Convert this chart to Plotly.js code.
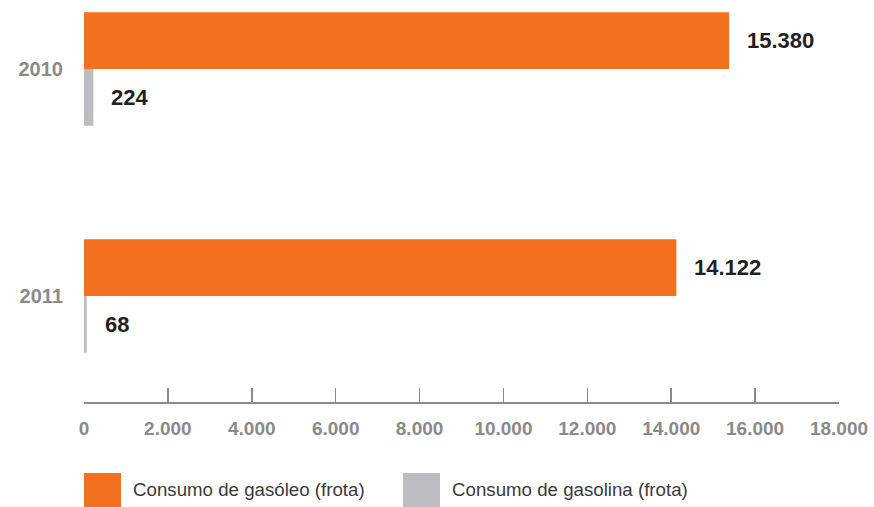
<!DOCTYPE html>
<html>
<head>
<meta charset="utf-8">
<script src="https://cdn.plot.ly/plotly-3.0.1.min.js"></script>
<style>
html,body{margin:0;padding:0;background:#fff;}
#chart{width:874px;height:507px;}
</style>
</head>
<body>
<div id="chart"></div>
<script>
const years = ["2010", "2011"];
const seriesNames = ["Consumo de gasóleo (frota)", "Consumo de gasolina (frota)"];
const gasoleo = [15380, 14122];
const gasolina = [224, 68];
const xTicks = [0, 2000, 4000, 6000, 8000, 10000, 12000, 14000, 16000, 18000];

const colors = ["#f37021", "#bcbdc0"];
const fmt = v => String(v).replace(/\B(?=(\d{3})+(?!\d))/g, ".");

const series = [gasoleo, gasolina];
const traces = series.map((vals, i) => ({
  type: "bar",
  orientation: "h",
  name: seriesNames[i],
  y: years,
  x: vals,
  marker: {color: colors[i], line: {width: 0}},
  hoverinfo: "skip",
  showlegend: false
}));

const bargap = 0.5;
const barW = (1 - bargap) / series.length;
const annotations = [];
series.forEach((vals, i) => {
  vals.forEach((v, j) => {
    annotations.push({
      x: v, y: j - (1 - bargap) / 2 + barW * (i + 0.5), xref: "x", yref: "y",
      text: fmt(v), showarrow: false,
      xanchor: "left", yanchor: "middle",
      xshift: 16,
      font: {family: "Liberation Sans, Arial, sans-serif", size: 22, color: "#231f20", weight: "bold"}
    });
  });
});

// custom legend (large swatches)
const shapes = [];
const legX = [84, 403];
seriesNames.forEach((n, i) => {
  shapes.push({
    type: "rect", xref: "paper", yref: "paper",
    x0: (legX[i] - 84) / 755, x1: (legX[i] + 37 - 84) / 755,
    y0: -(473 - 402) / 402, y1: -(507 - 402) / 402,
    fillcolor: colors[i], line: {width: 0}
  });
  annotations.push({
    xref: "paper", yref: "paper",
    x: (legX[i] + 47 - 84) / 755, y: -(490 - 402) / 402,
    xanchor: "left", yanchor: "middle", showarrow: false,
    text: n,
    font: {family: "Liberation Sans, Arial, sans-serif", size: 18.7, color: "#3a3a3a"}
  });
});

const layout = {
  width: 874, height: 507,
  margin: {l: 84, r: 35, t: 0, b: 105},
  paper_bgcolor: "#ffffff", plot_bgcolor: "#ffffff",
  barmode: "group", bargap: bargap, bargroupgap: 0,
  separators: ",.",
  showlegend: false,
  xaxis: {
    range: [0, 18000],
    tickvals: xTicks,
    tickformat: ",",
    ticks: "inside", ticklen: 14, tickwidth: 1.5, tickcolor: "#8a8a8a",
    showline: true, linecolor: "#8a8a8a", linewidth: 2,
    showgrid: false, zeroline: false,
    ticklabelstandoff: 8,
    tickfont: {family: "Liberation Sans, Arial, sans-serif", size: 19, color: "#8a8a8a", weight: "bold"},
    fixedrange: true
  },
  yaxis: {
    type: "category",
    categoryarray: years,
    range: [1.467, -0.304],
    showline: false, showgrid: false, zeroline: false, ticks: "",
    ticklabelstandoff: 20,
    tickfont: {family: "Liberation Sans, Arial, sans-serif", size: 20, color: "#8a8a8a", weight: "bold"},
    fixedrange: true
  },
  annotations: annotations,
  shapes: shapes
};

Plotly.newPlot("chart", traces, layout, {displayModeBar: false, staticPlot: true});
</script>
</body>
</html>
